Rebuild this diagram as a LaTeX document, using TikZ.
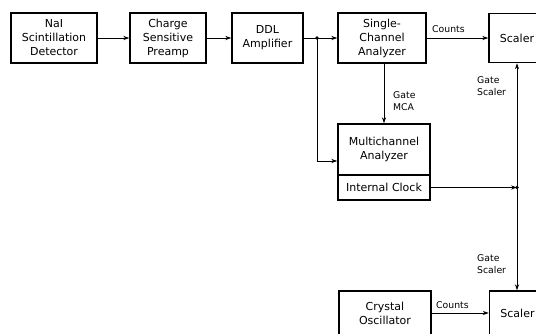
\documentclass[tikz,border=0pt]{standalone}
\usepackage{fontspec}
\setmainfont{DejaVu Sans}
\usetikzlibrary{arrows.meta}
\begin{document}
\begin{tikzpicture}[x=1pt,y=-1pt,
 box/.style={draw,line width=1.5pt,inner sep=0pt,align=center,font=\fontsize{11}{14}\selectfont},
 lbl/.style={inner sep=0pt,align=left,font=\fontsize{9.3}{12}\selectfont},
 conn/.style={line width=0.9pt,-{Stealth[length=6pt,width=4.2pt]}},
 dot/.style={circle,fill,inner sep=0pt,minimum size=3.8pt}]
\useasboundingbox (0,0) rectangle (536,333);
\clip (0,0) rectangle (536,333);
% boxes
\node[box,minimum width=86pt,minimum height=50pt] (nai) at (54,38) {NaI\\Scintillation\\Detector};
\node[box,minimum width=76pt,minimum height=50pt] (chg) at (168,38) {Charge\\Sensitive\\Preamp};
\node[box,minimum width=71pt,minimum height=50pt] (ddl) at (267.5,38) {DDL\\Amplifier};
\node[box,minimum width=88pt,minimum height=50pt] (sca) at (382,38) {Single-\\Channel\\Analyzer};
\node[box,minimum width=56pt,minimum height=49pt] (sc1) at (517,38) {Scaler};
\node[box,minimum width=92pt,minimum height=51pt] (mca) at (384,149.5) {Multichannel\\Analyzer};
\node[box,minimum width=92pt,minimum height=25pt] (clk) at (384,187.5) {Internal Clock};
\node[box,minimum width=92pt,minimum height=44pt] (osc) at (385,313) {Crystal\\Oscillator};
\node[box,minimum width=56pt,minimum height=44pt] (sc2) at (517.5,313) {Scaler};
% junctions
\node[dot] (j1) at (317,38) {};
\node[dot] (j2) at (517,187.5) {};
% connectors
\draw[conn] (nai) -- (chg);
\draw[conn] (chg) -- (ddl);
\draw[conn] (ddl) -- (sca);
\draw[conn] (sca) -- (sc1);
\draw[conn] (j1.center) |- ([yshift=-11.5pt]mca.west);
\draw[conn] (mca.north |- sca.south) -- (mca.north);
\draw[conn] (clk.east) -- (j2.center);
\draw[conn] (j2.center) -- (j2 |- sc1.south);
\draw[conn] (j2.center) -- (j2 |- sc2.north);
\draw[conn] (osc) -- (sc2);
% labels
\node[lbl,anchor=west] (l1) at (432,29) {Counts};
\node[lbl,anchor=west] (l2) at (436,305) {Counts};
\node[lbl,anchor=north west] (l3) at (393,91) {Gate\\MCA};
\node[lbl,anchor=north west] (l4) at (477,76) {Gate\\Scaler};
\node[lbl,anchor=north west] (l5) at (477,254) {Gate\\Scaler};
\end{tikzpicture}
\end{document}
